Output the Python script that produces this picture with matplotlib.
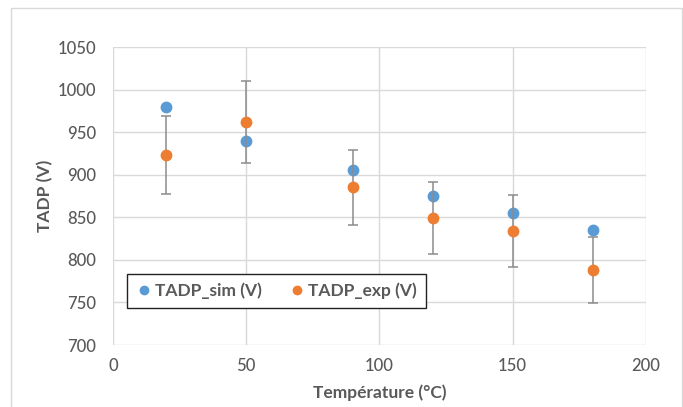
import matplotlib.pyplot as plt
from matplotlib.patches import Rectangle

plt.rcParams['font.family'] = ['Lato', 'DejaVu Sans']

# %% Data
temperature = [20, 50, 90, 120, 150, 180]
tadp_sim = [980, 940, 905, 875, 855, 835]
tadp_exp = [923, 962, 885, 849, 834, 788]
exp_err = [46, 48, 44, 42, 42, 39]

blue = "#5B9BD5"
orange = "#ED7D31"
grey_text = "#595959"

# %% Figure
fig = plt.figure(figsize=(6.83, 4.07), dpi=100)
ax = fig.add_axes([0.1654, 0.1523, 0.7804, 0.7322])

ax.plot(temperature, tadp_sim, "o", color=blue, ms=7.5, label="TADP_sim (V)", zorder=3)
ax.errorbar(temperature, tadp_exp, yerr=exp_err, fmt="o", color=orange, ms=7.5,
            ecolor="#8c8c8c", elinewidth=1.1, capsize=3.5, capthick=1.1,
            label="TADP_exp (V)", zorder=3)

ax.set_xlim(0, 200)
ax.set_ylim(700, 1050)
ax.set_xticks(range(0, 201, 50))
ax.set_yticks(range(700, 1051, 50))
ax.grid(True, color="#d9d9d9", linewidth=1)
ax.set_axisbelow(True)
for s in ax.spines.values():
    s.set_visible(False)
ax.tick_params(length=0, labelsize=12, colors=grey_text)
ax.tick_params(axis="y", pad=12)
ax.tick_params(axis="x", pad=9)
for lab in ax.get_xticklabels() + ax.get_yticklabels():
    lab.set_fontweight("medium")

ax.set_xlabel("Température (°C)", fontsize=12.5, fontweight="bold", color=grey_text)
ax.set_ylabel("TADP (V)", fontsize=12.5, fontweight="bold", color=grey_text)
ax.xaxis.set_label_coords(0.5, -0.161)
ax.yaxis.set_label_coords(-0.1276, 0.5)
ax.xaxis.label.set_va("center")
ax.yaxis.label.set_va("center")

handles = [plt.Line2D([], [], marker="o", ls="", color=blue, ms=6),
           plt.Line2D([], [], marker="o", ls="", color=orange, ms=6)]
leg = ax.legend(handles, ["TADP_sim (V)", "TADP_exp (V)"], ncol=2,
                loc="lower left", bbox_to_anchor=(0.026, 0.124), fontsize=12.5,
                borderaxespad=0, fancybox=False, framealpha=1, edgecolor="#222222",
                handletextpad=0.15, columnspacing=1.5, handlelength=1.0,
                borderpad=0.5)
leg.get_frame().set_linewidth(1)
for t in leg.get_texts():
    t.set_color(grey_text)
    t.set_fontweight("bold")

# outer chart border
fig.patches.append(Rectangle((11 / 683, -0.05), 671 / 683, 1.05 - 8 / 407, transform=fig.transFigure,
                             fill=False, edgecolor="#d9d9d9", linewidth=1))

fig.savefig("out.png", dpi=100)
